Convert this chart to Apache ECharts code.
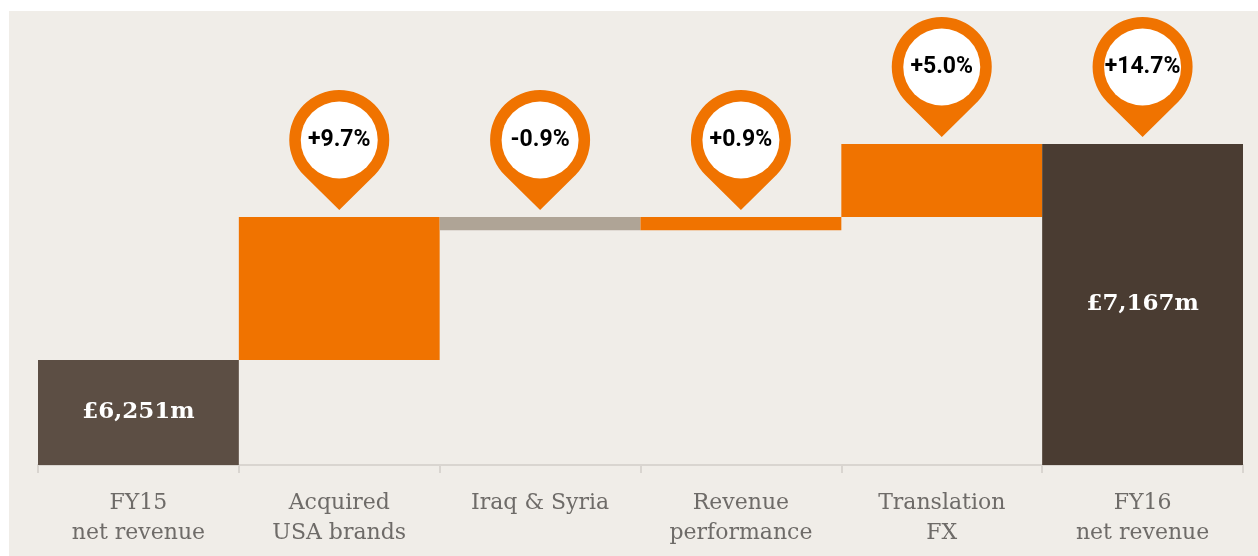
<!DOCTYPE html>
<html>
<head>
<meta charset="utf-8">
<script src="https://cdn.jsdelivr.net/npm/echarts@6/dist/echarts.min.js"></script>
<style>
  html, body { margin: 0; padding: 0; background: #ffffff; }
  #main { position: absolute; left: 9px; top: 11px; width: 1249px; height: 545px; background: #f0ede8; }
</style>
</head>
<body>
<div id="main"></div>
<script>
// categories and values (£m)
var categories = ["FY15\nnet revenue", "Acquired\nUSA brands", "Iraq & Syria", "Revenue\nperformance", "Translation\nFX", "FY16\nnet revenue"];
var startValue = 6251;
var changes = [606, -56, 56, 310];
var endValue = 7167;
var pinLabels = ["", "+9.7%", "-0.9%", "+0.9%", "+5.0%", "+14.7%"];
var totalLabels = ["£6,251m", "£7,167m"];

var ORANGE = "#f07300";
var GREY = "#afa496";

// build waterfall: transparent base + visible part
var baseData = [0];
var visData = [{ value: startValue, itemStyle: { color: "#5c4e44" }, label: { show: true, formatter: totalLabels[0] } }];
var tops = [startValue];
var running = startValue;
changes.forEach(function (c) {
  var next = running + c;
  baseData.push(Math.min(running, next));
  visData.push({ value: Math.abs(c), itemStyle: { color: c < 0 ? GREY : ORANGE } });
  tops.push(Math.max(running, next));
  running = next;
});
baseData.push(0);
visData.push({ value: endValue, itemStyle: { color: "#4a3c32" }, label: { show: true, formatter: totalLabels[1] } });
tops.push(endValue);

var pinData = [];
var dotData = [];
for (var i = 0; i < categories.length; i++) {
  if (pinLabels[i]) {
    pinData.push([i, tops[i]]);
    dotData.push({ value: [i, tops[i]], label: { formatter: pinLabels[i] } });
  }
}

var pinPath = "path://M14.5,83.8 A49,49 0 1 1 83.5,83.8 L49,118 Z";
var gap = 7;

var myChart = echarts.init(document.getElementById("main"));
var option = {
  animation: false,
  grid: { left: 29, right: 15, top: 9, bottom: 91 },
  xAxis: {
    type: "category",
    data: categories,
    axisLine: { lineStyle: { color: "#d9d5d0", width: 2 } },
    axisTick: { show: true, length: 8, lineStyle: { color: "#d9d5d0", width: 2 } },
    axisLabel: {
      margin: 23,
      fontFamily: "DejaVu Serif",
      fontSize: 22,
      lineHeight: 30,
      color: "#6e6b68",
    },
  },
  yAxis: {
    type: "value",
    min: 5805,
    max: 7693,
    show: false,
    splitLine: { show: false },
  },
  series: [
    {
      type: "bar",
      stack: "w",
      data: baseData,
      barWidth: "100%",
      itemStyle: { color: "transparent" },
      silent: true,
    },
    {
      type: "bar",
      stack: "w",
      data: visData,
      barWidth: "100%",
      label: {
        show: false,
        position: "inside",
        color: "#ffffff",
        fontFamily: "DejaVu Serif",
        fontWeight: "bold",
        fontSize: 23,
      },
    },
    {
      type: "scatter",
      data: pinData,
      symbol: pinPath,
      symbolSize: [100, 120],
      symbolOffset: [0, -(60 + gap)],
      itemStyle: { color: ORANGE, opacity: 1 },
      z: 5,
    },
    {
      type: "scatter",
      data: dotData,
      symbol: "circle",
      symbolSize: 77,
      symbolOffset: [0, -(70 + gap)],
      itemStyle: { color: "#ffffff", opacity: 1 },
      label: {
        show: true,
        position: "inside",
        color: "#000000",
        fontFamily: "Roboto",
        fontWeight: "bold",
        fontSize: 23,
      },
      z: 6,
    },
  ],
};

option && myChart.setOption(option);
</script>
</body>
</html>
